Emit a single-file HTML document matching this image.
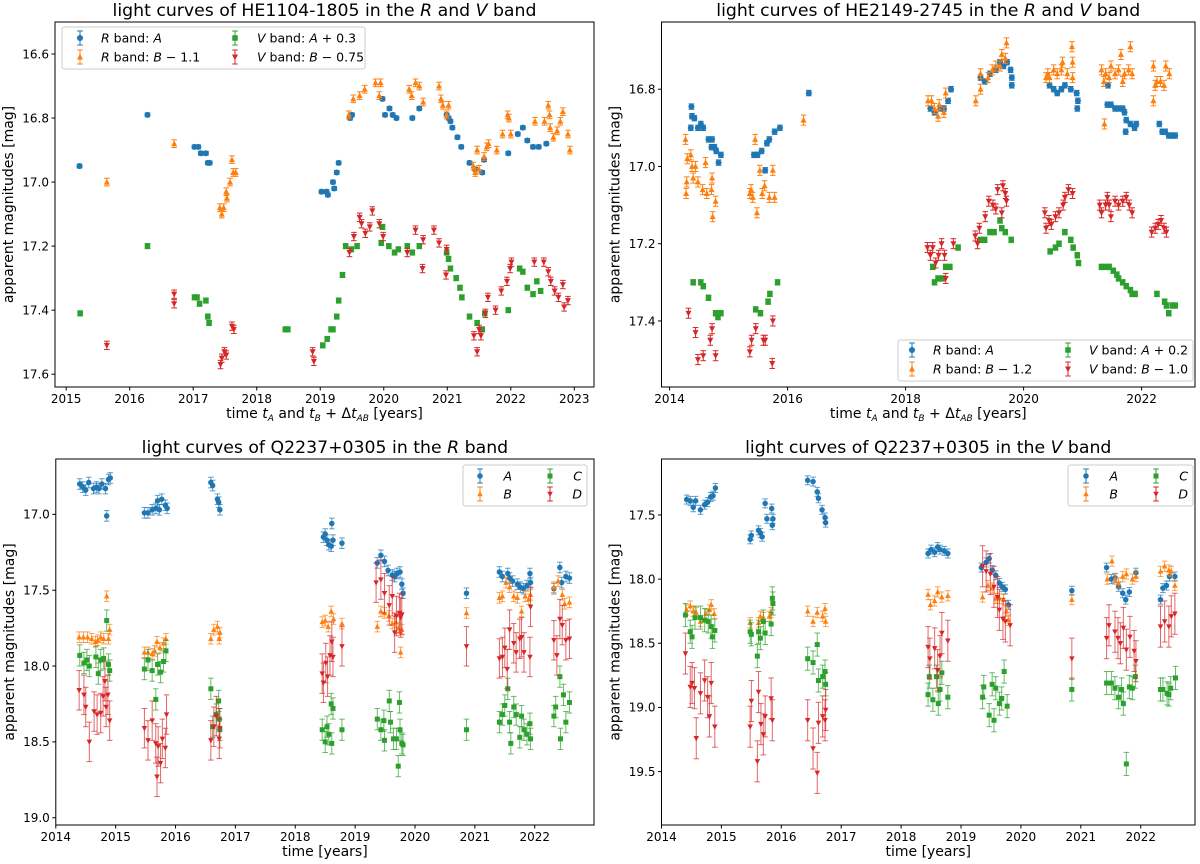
<!DOCTYPE html>
<html><head><meta charset="utf-8"><style>
body{margin:0;background:#fff;}
svg{display:block;font-family:"DejaVu Sans","Liberation Sans",sans-serif;}
</style></head><body>
<svg id="fig" width="1200" height="864" viewBox="0 0 1200 864" xmlns="http://www.w3.org/2000/svg"></svg>
<script>
// ---------- DATA: panel 1 HE1104-1805 ----------
const he1104_RA=[[2015.21,16.95],[2016.28,16.79],[2017.02,16.89],[2017.08,16.89],[2017.12,16.91],[2017.2,16.91],[2017.23,16.94],[2017.26,16.94],[2019.02,17.03],[2019.1,17.03],[2019.12,17.04],[2019.2,17.0],[2019.22,17.02],[2019.26,16.97],[2019.29,16.94],[2019.47,16.8],[2019.5,16.79],[2019.98,16.74],[2020.02,16.79],[2020.09,16.77],[2020.14,16.79],[2020.2,16.8],[2020.45,16.8],[2020.56,16.77],[2020.99,16.79],[2021.02,16.8],[2021.05,16.81],[2021.08,16.83],[2021.16,16.86],[2021.22,16.89],[2021.35,16.94],[2021.44,16.96],[2021.55,16.97],[2021.58,16.93],[2021.96,16.91],[2022.11,16.85],[2022.19,16.83],[2022.26,16.87],[2022.35,16.89],[2022.44,16.89],[2022.56,16.88]];
const he1104_RB=[[2015.64,17.0],[2016.7,16.88],[2017.42,17.08],[2017.45,17.1],[2017.48,17.08],[2017.52,17.03],[2017.53,17.05],[2017.58,17.0],[2017.61,16.93],[2017.63,16.97],[2017.67,16.97],[2019.45,16.79],[2019.52,16.74],[2019.62,16.73],[2019.7,16.71],[2019.87,16.69],[2019.93,16.73],[2019.95,16.69],[2020.4,16.71],[2020.44,16.73],[2020.5,16.69],[2020.56,16.7],[2020.62,16.75],[2020.87,16.7],[2020.9,16.74],[2020.93,16.76],[2020.99,16.79],[2021.02,16.76],[2021.41,16.95],[2021.44,16.97],[2021.47,16.9],[2021.5,16.96],[2021.58,16.92],[2021.62,16.89],[2021.65,16.88],[2021.78,16.9],[2021.87,16.85],[2021.95,16.79],[2021.97,16.8],[2022.0,16.85],[2022.38,16.81],[2022.53,16.81],[2022.59,16.76],[2022.61,16.79],[2022.62,16.83],[2022.67,16.86],[2022.73,16.84],[2022.78,16.81],[2022.82,16.78],[2022.9,16.85],[2022.93,16.9]];
const he1104_VA=[[2015.22,17.41],[2016.28,17.2],[2017.02,17.36],[2017.06,17.36],[2017.1,17.38],[2017.2,17.37],[2017.23,17.42],[2017.25,17.44],[2018.45,17.46],[2018.49,17.46],[2019.04,17.51],[2019.11,17.49],[2019.17,17.46],[2019.2,17.46],[2019.26,17.42],[2019.29,17.37],[2019.35,17.29],[2019.4,17.2],[2019.49,17.21],[2019.58,17.2],[2019.98,17.14],[2019.96,17.19],[2020.08,17.2],[2020.17,17.22],[2020.23,17.21],[2020.37,17.2],[2020.45,17.22],[2020.56,17.2],[2020.99,17.22],[2021.02,17.24],[2021.05,17.27],[2021.14,17.3],[2021.2,17.33],[2021.23,17.36],[2021.35,17.42],[2021.47,17.44],[2021.55,17.46],[2021.59,17.41],[2021.96,17.4],[2022.14,17.27],[2022.19,17.28],[2022.26,17.33],[2022.35,17.35],[2022.41,17.31],[2022.47,17.34]];
const he1104_VB=[[2015.64,17.51],[2016.7,17.35],[2016.7,17.38],[2017.43,17.57],[2017.45,17.55],[2017.49,17.53],[2017.52,17.54],[2017.61,17.45],[2017.64,17.46],[2018.88,17.53],[2018.9,17.56],[2019.46,17.22],[2019.53,17.17],[2019.62,17.11],[2019.65,17.13],[2019.71,17.16],[2019.78,17.14],[2019.82,17.09],[2019.93,17.13],[2019.99,17.17],[2020.37,17.22],[2020.5,17.15],[2020.61,17.27],[2020.62,17.18],[2020.79,17.15],[2020.87,17.19],[2020.98,17.29],[2020.99,17.21],[2021.42,17.48],[2021.47,17.53],[2021.5,17.46],[2021.53,17.48],[2021.6,17.41],[2021.64,17.36],[2021.76,17.4],[2021.85,17.34],[2021.94,17.31],[2021.99,17.27],[2022.01,17.25],[2022.37,17.25],[2022.52,17.25],[2022.59,17.28],[2022.63,17.31],[2022.69,17.34],[2022.75,17.36],[2022.82,17.32],[2022.84,17.39],[2022.9,17.37]];
// ---------- DATA: panel 2 HE2149-2745 ----------
const he2149_RA=[[2014.37,16.845],[2014.38,16.87],[2014.36,16.9],[2014.42,16.875],[2014.48,16.9],[2014.53,16.89],[2014.57,16.9],[2014.66,16.93],[2014.72,16.93],[2014.71,16.95],[2014.76,16.95],[2014.79,16.96],[2014.83,16.99],[2014.87,16.97],[2015.43,16.97],[2015.49,16.97],[2015.56,16.96],[2015.62,17.01],[2015.65,16.94],[2015.69,16.93],[2015.78,16.91],[2015.87,16.9],[2016.36,16.81],[2018.42,16.85],[2018.49,16.86],[2018.59,16.85],[2018.65,16.85],[2018.72,16.83],[2018.77,16.8],[2019.27,16.77],[2019.34,16.78],[2019.43,16.76],[2019.53,16.75],[2019.6,16.73],[2019.66,16.74],[2019.72,16.73],[2019.78,16.75],[2019.8,16.77],[2019.8,16.79],[2020.44,16.79],[2020.51,16.8],[2020.57,16.81],[2020.64,16.8],[2020.7,16.79],[2020.8,16.8],[2020.9,16.81],[2020.92,16.83],[2020.91,16.85],[2021.43,16.79],[2021.42,16.84],[2021.48,16.84],[2021.55,16.85],[2021.61,16.85],[2021.68,16.85],[2021.71,16.86],[2021.74,16.88],[2021.73,16.91],[2021.81,16.89],[2021.88,16.9],[2021.91,16.89],[2022.3,16.89],[2022.35,16.91],[2022.4,16.91],[2022.46,16.92],[2022.52,16.92],[2022.57,16.92]];
const he2149_RB=[[2014.27,16.93],[2014.3,16.98],[2014.29,17.04],[2014.28,17.07],[2014.36,16.97],[2014.38,17.0],[2014.4,17.03],[2014.44,17.0],[2014.48,17.04],[2014.56,17.06],[2014.61,16.99],[2014.63,17.07],[2014.71,17.06],[2014.72,17.03],[2014.73,17.13],[2014.78,17.09],[2015.36,17.07],[2015.38,17.06],[2015.41,17.08],[2015.45,16.93],[2015.48,17.12],[2015.53,17.01],[2015.57,17.07],[2015.61,17.05],[2015.69,17.08],[2015.75,17.01],[2015.78,17.08],[2016.27,16.88],[2018.38,16.83],[2018.44,16.83],[2018.49,16.85],[2018.55,16.87],[2018.57,16.84],[2018.65,16.86],[2018.68,16.81],[2019.19,16.83],[2019.27,16.8],[2019.27,16.76],[2019.4,16.77],[2019.47,16.75],[2019.53,16.74],[2019.6,16.74],[2019.63,16.71],[2019.69,16.72],[2019.71,16.68],[2020.38,16.77],[2020.41,16.76],[2020.44,16.77],[2020.51,16.75],[2020.57,16.76],[2020.64,16.75],[2020.66,16.73],[2020.74,16.76],[2020.83,16.73],[2020.82,16.69],[2020.83,16.77],[2021.32,16.75],[2021.36,16.78],[2021.37,16.89],[2021.39,16.76],[2021.45,16.77],[2021.48,16.74],[2021.55,16.76],[2021.61,16.75],[2021.65,16.71],[2021.68,16.78],[2021.71,16.76],[2021.78,16.75],[2021.81,16.69],[2021.84,16.76],[2022.2,16.74],[2022.2,16.83],[2022.23,16.79],[2022.26,16.78],[2022.32,16.78],[2022.38,16.79],[2022.41,16.74],[2022.47,16.76]];
const he2149_VA=[[2014.4,17.3],[2014.53,17.3],[2014.57,17.31],[2014.66,17.34],[2014.78,17.38],[2014.82,17.39],[2014.87,17.38],[2015.46,17.37],[2015.54,17.38],[2015.67,17.35],[2015.7,17.33],[2015.83,17.3],[2018.46,17.26],[2018.49,17.3],[2018.55,17.29],[2018.62,17.29],[2018.68,17.26],[2018.75,17.26],[2018.89,17.21],[2019.27,17.19],[2019.34,17.19],[2019.43,17.17],[2019.5,17.17],[2019.6,17.14],[2019.63,17.16],[2019.69,17.17],[2019.79,17.19],[2020.45,17.22],[2020.54,17.21],[2020.6,17.2],[2020.7,17.17],[2020.8,17.19],[2020.84,17.21],[2020.91,17.23],[2020.93,17.25],[2021.32,17.26],[2021.39,17.26],[2021.45,17.26],[2021.52,17.27],[2021.58,17.28],[2021.61,17.29],[2021.68,17.3],[2021.74,17.31],[2021.81,17.32],[2021.84,17.33],[2021.89,17.33],[2022.26,17.33],[2022.39,17.35],[2022.42,17.36],[2022.46,17.38],[2022.52,17.36],[2022.57,17.36]];
const he2149_VB=[[2014.32,17.38],[2014.44,17.43],[2014.48,17.5],[2014.57,17.49],[2014.69,17.45],[2014.72,17.42],[2014.78,17.49],[2015.36,17.48],[2015.39,17.45],[2015.46,17.42],[2015.59,17.45],[2015.62,17.45],[2015.74,17.51],[2015.75,17.4],[2018.37,17.21],[2018.42,17.23],[2018.46,17.21],[2018.51,17.25],[2018.56,17.23],[2018.61,17.2],[2018.66,17.23],[2018.68,17.29],[2018.81,17.2],[2019.18,17.18],[2019.22,17.2],[2019.25,17.16],[2019.35,17.13],[2019.41,17.09],[2019.48,17.1],[2019.53,17.11],[2019.56,17.06],[2019.63,17.12],[2019.65,17.05],[2019.69,17.07],[2019.71,17.09],[2020.36,17.12],[2020.38,17.16],[2020.43,17.14],[2020.47,17.15],[2020.54,17.13],[2020.6,17.12],[2020.67,17.1],[2020.7,17.08],[2020.76,17.06],[2020.83,17.07],[2021.29,17.1],[2021.32,17.12],[2021.39,17.1],[2021.42,17.08],[2021.45,17.1],[2021.48,17.13],[2021.55,17.09],[2021.61,17.1],[2021.68,17.09],[2021.74,17.08],[2021.79,17.1],[2021.84,17.12],[2022.17,17.17],[2022.23,17.16],[2022.28,17.15],[2022.33,17.14],[2022.38,17.16],[2022.42,17.17]];
// ---------- DATA: panel 3 Q2237 R band ----------
const q2237R_A=[[2014.4,16.8],[2014.45,16.82],[2014.5,16.84],[2014.55,16.79],[2014.63,16.83],[2014.68,16.82],[2014.72,16.83],[2014.77,16.8],[2014.83,16.83],[2014.85,17.01],[2014.88,16.77],[2014.91,16.76],[2015.48,16.99],[2015.54,16.99],[2015.61,16.97],[2015.67,16.96],[2015.7,16.91],[2015.73,16.97],[2015.77,16.9],[2015.83,16.94],[2015.86,16.96],[2016.59,16.79],[2016.62,16.81],[2016.7,16.9],[2016.72,16.92],[2016.74,16.97],[2018.47,17.15],[2018.5,17.13],[2018.53,17.17],[2018.56,17.2],[2018.6,17.21],[2018.61,17.06],[2018.63,17.17],[2018.78,17.19],[2019.37,17.32],[2019.43,17.27],[2019.49,17.31],[2019.55,17.37],[2019.62,17.4],[2019.66,17.41],[2019.7,17.39],[2019.75,17.38],[2019.78,17.46],[2019.8,17.52],[2020.86,17.52],[2021.41,17.38],[2021.46,17.41],[2021.55,17.39],[2021.58,17.42],[2021.63,17.44],[2021.71,17.46],[2021.76,17.48],[2021.81,17.49],[2021.87,17.47],[2021.92,17.39],[2021.93,17.45],[2022.32,17.49],[2022.42,17.35],[2022.45,17.45],[2022.52,17.41],[2022.58,17.42]];
const q2237R_B=[[2014.39,17.81],[2014.46,17.81],[2014.53,17.81],[2014.6,17.82],[2014.66,17.84],[2014.7,17.83],[2014.75,17.81],[2014.8,17.82],[2014.85,17.54],[2014.88,17.82],[2014.9,17.76],[2015.48,17.91],[2015.54,17.91],[2015.61,17.92],[2015.65,17.9],[2015.69,17.84],[2015.74,17.88],[2015.8,17.85],[2015.84,17.82],[2016.59,17.82],[2016.64,17.76],[2016.7,17.74],[2016.73,17.82],[2016.74,17.78],[2018.45,17.71],[2018.5,17.7],[2018.55,17.74],[2018.6,17.64],[2018.64,17.69],[2018.78,17.72],[2019.37,17.74],[2019.43,17.64],[2019.49,17.65],[2019.56,17.67],[2019.62,17.72],[2019.68,17.71],[2019.72,17.75],[2019.76,17.91],[2019.78,17.76],[2020.86,17.65],[2021.41,17.55],[2021.46,17.54],[2021.52,17.45],[2021.58,17.48],[2021.65,17.54],[2021.71,17.55],[2021.78,17.64],[2021.84,17.54],[2021.9,17.56],[2021.93,17.53],[2022.32,17.48],[2022.39,17.44],[2022.46,17.53],[2022.5,17.59],[2022.58,17.58]];
const q2237R_C=[[2014.4,17.93],[2014.47,17.98],[2014.52,17.96],[2014.56,18.0],[2014.67,17.94],[2014.71,18.05],[2014.75,17.96],[2014.8,17.95],[2014.85,17.7],[2014.88,17.99],[2014.9,18.03],[2015.48,18.02],[2015.54,17.96],[2015.61,18.03],[2015.67,18.22],[2015.7,17.99],[2015.75,18.04],[2015.8,17.97],[2015.84,17.9],[2016.59,18.15],[2016.62,18.4],[2016.68,18.32],[2016.72,18.23],[2016.73,18.35],[2016.74,18.42],[2018.45,18.42],[2018.5,18.5],[2018.53,18.4],[2018.56,18.45],[2018.6,18.25],[2018.61,18.51],[2018.63,18.28],[2018.78,18.42],[2019.37,18.35],[2019.43,18.42],[2019.48,18.36],[2019.49,18.49],[2019.57,18.23],[2019.59,18.37],[2019.64,18.48],[2019.69,18.48],[2019.72,18.66],[2019.74,18.24],[2019.75,18.42],[2019.78,18.51],[2019.8,18.52],[2020.86,18.42],[2021.41,18.37],[2021.46,18.32],[2021.5,18.26],[2021.55,18.15],[2021.58,18.37],[2021.6,18.51],[2021.65,18.27],[2021.69,18.32],[2021.75,18.47],[2021.78,18.33],[2021.82,18.42],[2021.87,18.45],[2021.92,18.38],[2021.93,18.48],[2022.32,18.33],[2022.35,18.27],[2022.42,18.07],[2022.43,18.48],[2022.48,18.19],[2022.52,18.37],[2022.58,18.24]];
const q2237R_D=[[2014.39,18.16],[2014.47,18.19],[2014.5,18.27],[2014.56,18.5],[2014.64,18.3],[2014.69,18.32],[2014.75,18.31],[2014.79,18.2],[2014.82,18.1],[2014.84,18.27],[2014.87,18.19],[2014.9,18.36],[2015.48,18.41],[2015.54,18.49],[2015.61,18.36],[2015.67,18.51],[2015.69,18.73],[2015.71,18.53],[2015.75,18.64],[2015.78,18.48],[2015.83,18.54],[2015.85,18.32],[2016.59,18.49],[2016.64,18.4],[2016.68,18.33],[2016.73,18.48],[2016.74,18.41],[2018.45,18.05],[2018.47,18.11],[2018.51,17.98],[2018.54,18.07],[2018.58,17.93],[2018.61,17.84],[2018.63,17.94],[2018.78,17.87],[2019.35,17.45],[2019.43,17.43],[2019.49,17.52],[2019.57,17.6],[2019.62,17.54],[2019.66,17.78],[2019.69,17.67],[2019.74,17.65],[2019.76,17.68],[2019.78,17.66],[2020.86,17.87],[2021.41,17.95],[2021.46,17.94],[2021.5,17.88],[2021.54,18.02],[2021.58,17.76],[2021.65,17.85],[2021.69,17.91],[2021.75,17.82],[2021.78,17.81],[2021.82,17.91],[2021.92,17.94],[2021.93,17.61],[2022.32,17.83],[2022.37,17.93],[2022.42,17.69],[2022.46,17.73],[2022.52,17.83],[2022.58,17.82]];
// ---------- DATA: panel 4 Q2237 V band ----------
const q2237V_A=[[2014.42,17.38],[2014.48,17.39],[2014.53,17.44],[2014.57,17.39],[2014.65,17.46],[2014.72,17.42],[2014.77,17.4],[2014.82,17.36],[2014.86,17.35],[2014.9,17.29],[2015.48,17.69],[2015.5,17.66],[2015.62,17.62],[2015.65,17.64],[2015.68,17.67],[2015.73,17.41],[2015.76,17.53],[2015.84,17.45],[2015.85,17.58],[2015.86,17.53],[2016.44,17.23],[2016.53,17.24],[2016.6,17.32],[2016.62,17.37],[2016.68,17.46],[2016.73,17.52],[2016.74,17.56],[2018.45,17.8],[2018.5,17.77],[2018.56,17.79],[2018.61,17.75],[2018.65,17.77],[2018.72,17.78],[2018.78,17.8],[2019.34,17.91],[2019.42,17.87],[2019.47,17.84],[2019.52,17.93],[2019.58,17.97],[2019.64,18.03],[2019.69,18.06],[2019.74,18.08],[2019.79,18.2],[2020.85,18.09],[2021.43,17.91],[2021.51,18.0],[2021.57,17.99],[2021.63,18.06],[2021.7,18.11],[2021.75,18.16],[2021.81,18.1],[2021.92,17.95],[2022.33,18.16],[2022.37,18.07],[2022.43,18.05],[2022.48,17.98],[2022.57,17.98]];
const q2237V_B=[[2014.42,18.24],[2014.48,18.21],[2014.53,18.25],[2014.58,18.26],[2014.65,18.33],[2014.74,18.27],[2014.8,18.24],[2014.83,18.2],[2014.88,18.27],[2015.48,18.34],[2015.62,18.34],[2015.65,18.29],[2015.7,18.3],[2015.8,18.29],[2015.83,18.26],[2016.44,18.25],[2016.53,18.33],[2016.6,18.26],[2016.69,18.29],[2016.73,18.23],[2016.74,18.33],[2018.45,18.12],[2018.49,18.2],[2018.56,18.17],[2018.61,18.1],[2018.68,18.14],[2018.78,18.13],[2019.36,18.14],[2019.45,18.05],[2019.52,18.07],[2019.58,18.15],[2019.64,18.15],[2019.71,18.16],[2019.76,18.25],[2019.79,18.32],[2020.85,18.16],[2021.44,18.0],[2021.52,17.86],[2021.57,18.0],[2021.63,18.03],[2021.7,17.98],[2021.76,17.96],[2021.86,18.0],[2021.92,17.98],[2022.33,17.94],[2022.4,17.9],[2022.47,17.93],[2022.51,17.94],[2022.57,18.05]];
const q2237V_C=[[2014.4,18.28],[2014.48,18.41],[2014.51,18.45],[2014.56,18.3],[2014.65,18.3],[2014.72,18.32],[2014.78,18.33],[2014.83,18.37],[2014.85,18.45],[2014.89,18.4],[2015.48,18.41],[2015.5,18.43],[2015.6,18.6],[2015.62,18.41],[2015.65,18.46],[2015.7,18.33],[2015.73,18.42],[2015.83,18.35],[2015.85,18.15],[2015.86,18.19],[2016.44,18.62],[2016.53,18.65],[2016.6,18.51],[2016.62,18.79],[2016.69,18.76],[2016.73,18.72],[2016.74,18.82],[2018.45,18.9],[2018.47,18.76],[2018.53,18.94],[2018.59,18.76],[2018.62,18.97],[2018.65,18.86],[2018.68,18.73],[2018.78,18.92],[2019.36,18.92],[2019.38,18.84],[2019.47,19.06],[2019.52,18.82],[2019.55,19.1],[2019.58,18.85],[2019.64,18.97],[2019.68,18.93],[2019.72,18.72],[2019.77,18.99],[2020.85,18.86],[2021.43,18.81],[2021.51,18.81],[2021.57,18.85],[2021.63,18.92],[2021.68,18.86],[2021.71,18.97],[2021.76,19.44],[2021.81,18.84],[2021.86,18.85],[2021.91,18.76],[2022.33,18.86],[2022.37,18.86],[2022.44,18.89],[2022.47,18.9],[2022.5,18.85],[2022.58,18.77]];
const q2237V_D=[[2014.4,18.58],[2014.48,18.84],[2014.51,18.81],[2014.55,18.85],[2014.58,19.24],[2014.65,18.89],[2014.72,18.79],[2014.77,18.92],[2014.8,19.07],[2014.83,18.81],[2014.89,19.15],[2015.48,19.15],[2015.5,18.95],[2015.6,19.42],[2015.62,18.88],[2015.66,19.13],[2015.7,19.21],[2015.73,19.07],[2015.83,18.93],[2015.85,19.1],[2016.44,19.1],[2016.53,19.32],[2016.6,19.51],[2016.62,19.12],[2016.69,19.07],[2016.73,19.1],[2016.74,19.02],[2018.45,18.53],[2018.48,18.62],[2018.56,18.54],[2018.61,18.71],[2018.65,18.6],[2018.68,18.42],[2018.78,18.48],[2019.36,17.9],[2019.42,17.94],[2019.49,17.96],[2019.55,18.06],[2019.61,18.14],[2019.64,18.24],[2019.7,18.31],[2019.74,18.33],[2019.82,18.36],[2020.85,18.62],[2021.43,18.46],[2021.47,18.36],[2021.57,18.41],[2021.62,18.46],[2021.66,18.5],[2021.71,18.38],[2021.76,18.55],[2021.82,18.45],[2021.89,18.56],[2021.92,18.64],[2022.33,18.37],[2022.4,18.33],[2022.47,18.37],[2022.51,18.29],[2022.57,18.27]];
// tick labels
const p1XTicks=[2015,2016,2017,2018,2019,2020,2021,2022,2023];
const p1YTicks=[16.6,16.8,17.0,17.2,17.4,17.6];
const p2XTicks=[2014,2016,2018,2020,2022];
const p2YTicks=[16.8,17.0,17.2,17.4];
const p3XTicks=[2014,2015,2016,2017,2018,2019,2020,2021,2022];
const p3YTicks=[17.0,17.5,18.0,18.5,19.0];
const p4XTicks=[2014,2015,2016,2017,2018,2019,2020,2021,2022];
const p4YTicks=[17.5,18.0,18.5,19.0,19.5];

const NS="http://www.w3.org/2000/svg";
const svg=document.getElementById('fig');
const COL={blue:'#1f77b4',orange:'#ff7f0e',green:'#2ca02c',red:'#d62728'};
function mk(tag,attrs,parent){const e=document.createElementNS(NS,tag);for(const k in attrs)e.setAttribute(k,attrs[k]);(parent||svg).appendChild(e);return e;}
function marker(g,shape,x,y,c,s){
  let e;
  if(shape==='o'){e=mk('circle',{cx:x,cy:y,r:s*0.55,fill:c},g);}
  else if(shape==='s'){e=mk('rect',{x:x-s*0.5,y:y-s*0.5,width:s,height:s,fill:c},g);}
  else if(shape==='^'){e=mk('path',{d:`M${x},${y-s*0.6}L${x+s*0.55},${y+s*0.45}L${x-s*0.55},${y+s*0.45}Z`,fill:c},g);}
  else {e=mk('path',{d:`M${x},${y+s*0.6}L${x+s*0.55},${y-s*0.45}L${x-s*0.55},${y-s*0.45}Z`,fill:c},g);}
  return e;
}
function panel(cfg){
  const g=mk('g',{});
  
  
  const X=v=>cfg.x0+(v-cfg.dx0)/(cfg.dx1-cfg.dx0)*(cfg.x1-cfg.x0);
  const Y=v=>cfg.y0+(v-cfg.dy0)/(cfg.dy1-cfg.dy0)*(cfg.y1-cfg.y0);
  cfg.series.forEach(s=>{
    const sg=mk('g',{},g);
    
    
    s.data.forEach(p=>{
      const x=X(p[0]),y=Y(p[1]);
      const e=p[2]!==undefined?p[2]:s.err;
      const ya=Y(p[1]-e),yb=Y(p[1]+e);
      mk('line',{x1:x,x2:x,y1:ya,y2:yb,stroke:s.color,'stroke-width':1,opacity:cfg.alpha},sg);
      mk('line',{x1:x-2.8,x2:x+2.8,y1:ya,y2:ya,stroke:s.color,'stroke-width':1,opacity:cfg.alpha},sg);
      mk('line',{x1:x-2.8,x2:x+2.8,y1:yb,y2:yb,stroke:s.color,'stroke-width':1,opacity:cfg.alpha},sg);
      const m=marker(sg,s.shape,x,y,s.color,cfg.ms);
      
      
    });
  });
  const fr=mk('rect',{x:cfg.x0,y:cfg.y0,width:cfg.x1-cfg.x0,height:cfg.y1-cfg.y0,fill:'none',stroke:'#000','stroke-width':1},g);
  
  
  cfg.xt.forEach(t=>{
    const x=X(t);
    mk('line',{x1:x,x2:x,y1:cfg.y1,y2:cfg.y1+3.5,stroke:'#000'},g);
    const tx=mk('text',{x:x,y:cfg.y1+16,'text-anchor':'middle','font-size':12},g);
    tx.textContent=t;
    
    
  });
  cfg.yt.forEach(t=>{
    const y=Y(t);
    mk('line',{x1:cfg.x0-3.5,x2:cfg.x0,y1:y,y2:y,stroke:'#000'},g);
    const tx=mk('text',{x:cfg.x0-6,y:y+4.3,'text-anchor':'end','font-size':12},g);
    tx.textContent=t.toFixed(1);
    
    
  });
  const ti=mk('text',{x:(cfg.x0+cfg.x1)/2,y:cfg.y0-6,'text-anchor':'middle','font-size':17.3},g);
  ti.innerHTML=cfg.title;
  
  
  const xl=mk('text',{x:(cfg.x0+cfg.x1)/2,y:cfg.y1+31,'text-anchor':'middle','font-size':14},g);
  xl.innerHTML=cfg.xlabel;
  
  
  const cy=(cfg.y0+cfg.y1)/2, cx=cfg.x0-42;
  const yl=mk('text',{x:cx,y:cy,'text-anchor':'middle','font-size':14,transform:`rotate(-90 ${cx} ${cy})`},g);
  yl.textContent='apparent magnitudes [mag]';
  
  
  const L=cfg.legend;
  const lg=mk('g',{},g);
  
  
  mk('rect',{x:L.x,y:L.y,width:L.w,height:L.h,rx:2.5,fill:'#fff','fill-opacity':0.8,stroke:'#ccc'},lg);
  L.items.forEach((it,i)=>{
    const col=i<2?0:1,row=i%2;
    const mx=L.mx[col],my=L.ry[row];
    const eg=mk('g',{},lg);
    
    
    mk('line',{x1:mx,x2:mx,y1:my-7,y2:my+7,stroke:it.color},eg);
    mk('line',{x1:mx-2.8,x2:mx+2.8,y1:my-7,y2:my-7,stroke:it.color},eg);
    mk('line',{x1:mx-2.8,x2:mx+2.8,y1:my+7,y2:my+7,stroke:it.color},eg);
    marker(eg,it.shape,mx,my,it.color,cfg.ms);
    const t=mk('text',{x:L.tx[col],y:my+4.5,'font-size':12.5,'text-anchor':L.anchor||'start'},eg);
    t.innerHTML=it.label;
  });
}
const xlabAB='time <tspan font-style="italic">t</tspan><tspan font-size="9" dy="3" font-style="italic">A</tspan><tspan dy="-3"> and </tspan><tspan font-style="italic">t</tspan><tspan font-size="9" dy="3" font-style="italic">B</tspan><tspan dy="-3"> + Δ</tspan><tspan font-style="italic">t</tspan><tspan font-size="9" dy="3" font-style="italic">AB</tspan><tspan dy="-3"> [years]</tspan>';
const I=s=>`<tspan font-style="italic">${s}</tspan>`;
panel({name:'panel-he1104',x0:55,x1:594,y0:22,y1:387,dx0:2014.824,dx1:2023.31,dy0:16.5,dy1:17.64,xt:p1XTicks,yt:p1YTicks,alpha:1,ms:5.5,
  title:`light curves of HE1104-1805 in the ${I('R')} and ${I('V')} band`,xlabel:xlabAB,
  series:[{name:'r-band-a',data:he1104_RA,color:COL.blue,shape:'o',err:0.006},{name:'r-band-b',data:he1104_RB,color:COL.orange,shape:'^',err:0.012},{name:'v-band-a',data:he1104_VA,color:COL.green,shape:'s',err:0.008},{name:'v-band-b',data:he1104_VB,color:COL.red,shape:'v',err:0.013}],
  legend:{x:62,y:27,w:303,h:42,mx:[80,235],tx:[101,257],ry:[38,57],items:[
    {color:COL.blue,shape:'o',label:`${I('R')} band: ${I('A')}`},{color:COL.orange,shape:'^',label:`${I('R')} band: ${I('B')} − 1.1`},
    {color:COL.green,shape:'s',label:`${I('V')} band: ${I('A')} + 0.3`},{color:COL.red,shape:'v',label:`${I('V')} band: ${I('B')} − 0.75`}]}});
panel({name:'panel-he2149',x0:661.5,x1:1195,y0:22,y1:387,dx0:2013.863,dx1:2022.905,dy0:16.626,dy1:17.571,xt:p2XTicks,yt:p2YTicks,alpha:1,ms:5.5,
  title:`light curves of HE2149-2745 in the ${I('R')} and ${I('V')} band`,xlabel:xlabAB,
  series:[{name:'r-band-a',data:he2149_RA,color:COL.blue,shape:'o',err:0.007},{name:'r-band-b',data:he2149_RB,color:COL.orange,shape:'^',err:0.013},{name:'v-band-a',data:he2149_VA,color:COL.green,shape:'s',err:0.007},{name:'v-band-b',data:he2149_VB,color:COL.red,shape:'v',err:0.013}],
  legend:{x:898,y:340,w:295,h:41,mx:[912,1068],tx:[933,1089],ry:[350,369],items:[
    {color:COL.blue,shape:'o',label:`${I('R')} band: ${I('A')}`},{color:COL.orange,shape:'^',label:`${I('R')} band: ${I('B')} − 1.2`},
    {color:COL.green,shape:'s',label:`${I('V')} band: ${I('A')} + 0.2`},{color:COL.red,shape:'v',label:`${I('V')} band: ${I('B')} − 1.0`}]}});
panel({name:'panel-q2237-r',x0:55.8,x1:594,y0:459,y1:825,dx0:2014,dx1:2022.99,dy0:16.635,dy1:19.048,xt:p3XTicks,yt:p3YTicks,alpha:0.7,ms:5,
  title:`light curves of Q2237+0305 in the ${I('R')} band`,xlabel:'time [years]',
  series:[{name:'image-a',data:q2237R_A,color:COL.blue,shape:'o',err:0.035},{name:'image-b',data:q2237R_B,color:COL.orange,shape:'^',err:0.035},{name:'image-c',data:q2237R_C,color:COL.green,shape:'s',err:0.07},{name:'image-d',data:q2237R_D,color:COL.red,shape:'v',err:0.13}],
  legend:{x:463,y:465,w:124,h:41,mx:[480,550],tx:[512,582],anchor:'end',ry:[476,494],items:[
    {color:COL.blue,shape:'o',label:I('A')},{color:COL.orange,shape:'^',label:I('B')},{color:COL.green,shape:'s',label:I('C')},{color:COL.red,shape:'v',label:I('D')}]}});
panel({name:'panel-q2237-v',x0:661.5,x1:1195,y0:459,y1:825,dx0:2014,dx1:2022.906,dy0:17.064,dy1:19.916,xt:p4XTicks,yt:p4YTicks,alpha:0.7,ms:5,
  title:`light curves of Q2237+0305 in the ${I('V')} band`,xlabel:'time [years]',
  series:[{name:'image-a',data:q2237V_A,color:COL.blue,shape:'o',err:0.035},{name:'image-b',data:q2237V_B,color:COL.orange,shape:'^',err:0.04},{name:'image-c',data:q2237V_C,color:COL.green,shape:'s',err:0.09},{name:'image-d',data:q2237V_D,color:COL.red,shape:'v',err:0.16}],
  legend:{x:1068,y:465,w:125,h:41,mx:[1086,1156],tx:[1118,1188],anchor:'end',ry:[476,494],items:[
    {color:COL.blue,shape:'o',label:I('A')},{color:COL.orange,shape:'^',label:I('B')},{color:COL.green,shape:'s',label:I('C')},{color:COL.red,shape:'v',label:I('D')}]}});
</script>
</body></html>
